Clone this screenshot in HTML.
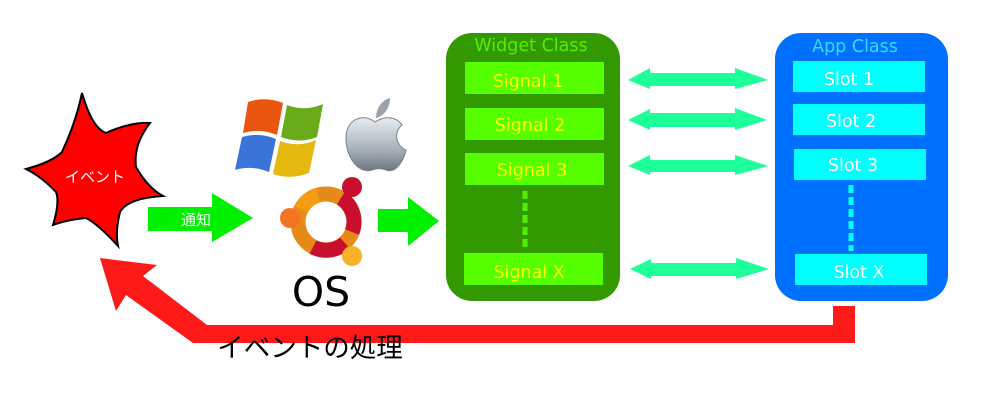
<!DOCTYPE html>
<html><head><meta charset="utf-8"><style>
body{margin:0;width:1000px;height:400px;background:#fff;overflow:hidden}
svg text{font-family:"DejaVu Sans","Liberation Sans","Noto Sans CJK JP",sans-serif}
</style></head><body>
<svg width="1000" height="400" viewBox="0 0 1000 400" xmlns="http://www.w3.org/2000/svg">
<defs>
<linearGradient id="ap" x1="0" y1="0" x2="0" y2="1"><stop offset="0" stop-color="#e8ecf0"/><stop offset="0.6" stop-color="#a8b0ba"/><stop offset="1" stop-color="#6d7580"/></linearGradient>
</defs>
<path d="M82,93 Q92,128 106,133 Q130,122 150,123 Q133,145 136,167 Q148,188 163,196 Q128,198 120,212 Q115,232 118,246 Q98,224 86,218 Q66,220 53,225 Q60,202 56,192 Q42,177 26,169 Q52,162 62,152 Q76,122 82,93 Z" fill="#f00" stroke="#000" stroke-width="2"/>
<text x="95" y="182" fill="#fff" font-size="15" text-anchor="middle">イベント</text>
<polygon points="148,207 212,207 212,193 253,218 212,242 212,231 148,231" fill="#00f000"/>
<text x="196" y="225" fill="#fff" font-size="15" text-anchor="middle">通知</text>
<polygon points="378,209 408,209 408,197 439,221 408,246 408,232 378,232" fill="#00f000"/>
<path d="M248,102 Q265,96 283,103 L277,135 Q260,128 243,133 Z" fill="#e8550f"/>
<path d="M287,105 Q305,112 323,104 L317,137 Q300,144 281,137 Z" fill="#6aab1a"/>
<path d="M242,137 Q259,132 276,139 L269,172 Q252,165 235,170 Z" fill="#3b74d8"/>
<path d="M280,141 Q299,148 316,140 L309,173 Q290,180 273,174 Z" fill="#e4b80c"/>
<path d="M375,122 C362,112 345,120 346,140 C347,160 360,174 372,170 C377,168 381,168 386,170 C396,174 404,160 406,150 C396,146 393,132 402,125 C396,116 384,116 375,122 Z" fill="url(#ap)" stroke="#7a828c" stroke-width="1"/>
<path d="M376,118 C376,108 382,100 390,98 C390,108 384,116 376,118 Z" fill="#9aa2ac"/>
<circle cx="326" cy="222" r="28" fill="none" stroke="#e88a1a" stroke-width="15"/>
<path d="M341,198 A28,28 0 0 1 352,232" fill="none" stroke="#c8102e" stroke-width="15"/>
<path d="M345,243 A28,28 0 0 1 313,247" fill="none" stroke="#c8102e" stroke-width="15"/>
<path d="M301,209 A28,28 0 0 1 318,195" fill="none" stroke="#f39c12" stroke-width="15"/>
<circle cx="290" cy="218" r="10" fill="#f47421"/>
<circle cx="352" cy="187" r="10" fill="#c8102e"/>
<circle cx="352" cy="256" r="10" fill="#f8b22a"/>
<text x="321" y="306" fill="#000" font-size="41" text-anchor="middle">OS</text>
<rect x="446" y="33" width="174" height="268" rx="26" fill="#339900"/>
<text x="531" y="51" fill="#55ee00" font-size="17.5" text-anchor="middle">Widget Class</text>
<g fill="#55ff00">
<rect x="465" y="62" width="139" height="32"/><rect x="465" y="108" width="139" height="32"/>
<rect x="465" y="153" width="139" height="32"/><rect x="464" y="253" width="139" height="32"/>
</g>
<g fill="#ffff00" font-size="17.5" text-anchor="middle">
<text x="528" y="87">Signal 1</text><text x="530" y="131">Signal 2</text>
<text x="532" y="176">Signal 3</text><text x="529" y="278">Signal X</text>
</g>
<line x1="525" y1="191" x2="525" y2="249" stroke="#55ee00" stroke-width="5" stroke-dasharray="8,4"/>
<rect x="775" y="33" width="173" height="268" rx="26" fill="#0070ff"/>
<text x="855" y="52" fill="#33ddff" font-size="17.5" text-anchor="middle">App Class</text>
<g fill="#00ffff">
<rect x="793" y="61" width="132" height="31"/><rect x="793" y="104" width="132" height="31"/>
<rect x="794" y="149" width="132" height="31"/><rect x="795" y="254" width="132" height="31"/>
</g>
<g fill="#fff" font-size="17.5" text-anchor="middle">
<text x="849" y="85">Slot 1</text><text x="851" y="127">Slot 2</text>
<text x="853" y="171">Slot 3</text><text x="859" y="278">Slot X</text>
</g>
<line x1="851" y1="185" x2="851" y2="251" stroke="#00ffff" stroke-width="5" stroke-dasharray="8,4"/>
<g fill="#1dff99">
<polygon points="628,80 650,68 650,73 735,73 735,68 768,80 735,89 735,86 650,86 650,89"/>
<polygon points="628,120 650,109 650,113 735,113 735,108 767,120 735,130 735,127 650,127 650,130"/>
<polygon points="628,166 650,155 650,160 735,160 735,155 768,166 735,175 735,172 650,172 650,175"/>
<polygon points="630,269 651,259 651,263 736,263 736,258 769,269 736,279 736,276 651,276 651,279"/>
</g>
<polygon points="833,306 855,306 855,343 193,343 126,295 116,311 100,258 157,265 143,276 207,325 833,325" fill="#ff1a1a"/>
<text x="310" y="357" fill="#000" font-size="26.5" text-anchor="middle">イベントの処理</text>
</svg>
</body></html>
